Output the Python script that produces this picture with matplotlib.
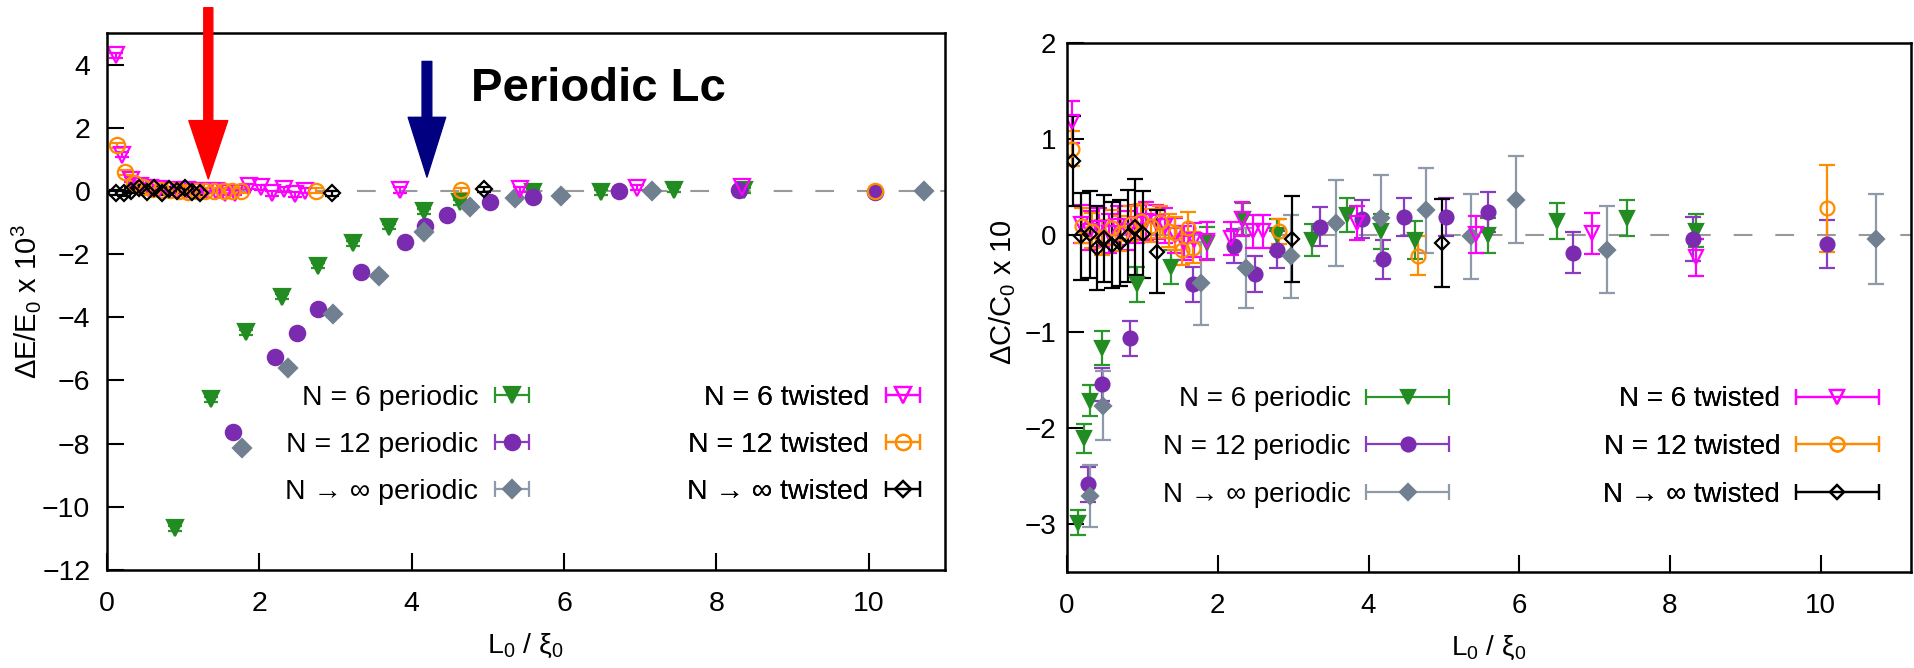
import matplotlib
matplotlib.use('Agg')
import matplotlib.pyplot as plt
from matplotlib.collections import LineCollection
from matplotlib.container import ErrorbarContainer
from matplotlib.legend_handler import HandlerErrorbar
from matplotlib.lines import Line2D

plt.rcParams['font.family'] = ['Liberation Sans', 'DejaVu Sans']
plt.rcParams['mathtext.fontset'] = 'custom'
plt.rcParams['mathtext.rm'] = 'Liberation Sans'
plt.rcParams['mathtext.it'] = 'Liberation Sans:italic'

# ---- left panel: Delta E / E0 x 10^3 ----
g_x_l = [0.89, 1.36, 1.83, 2.30, 2.77, 3.23, 3.70, 4.16, 4.63, 5.59, 6.48, 7.44, 8.36]
g_y_l = [-10.68, -6.60, -4.48, -3.35, -2.37, -1.66, -1.13, -0.65, -0.36, -0.02, -0.04, 0.04, 0.02]
p_x_l = [1.65, 2.21, 2.49, 2.77, 3.34, 3.91, 4.18, 4.46, 5.03, 5.59, 6.72, 8.30, 10.08]
p_y_l = [-7.63, -5.26, -4.49, -3.75, -2.56, -1.61, -1.10, -0.76, -0.34, -0.20, 0.01, 0.04, -0.02]
s_x_l = [1.77, 2.37, 2.97, 3.57, 4.16, 4.76, 5.36, 5.96, 7.16, 10.73]
s_y_l = [-8.14, -5.60, -3.90, -2.69, -1.31, -0.52, -0.23, -0.15, 0.01, 0.01]
m_x_l = [0.12, 0.20, 0.31, 0.43, 0.56, 0.68, 0.81, 0.93, 1.05, 1.18, 1.30, 1.43,
         1.55, 1.68, 1.86, 2.02, 2.17, 2.32, 2.47, 2.60, 3.85, 5.42, 6.96, 8.34]
m_y_l = [4.30, 1.15, 0.35, 0.15, 0.08, 0.05, 0.03, 0.02, 0.02, 0.00, 0.00, 0.00,
         -0.05, -0.05, 0.15, 0.12, -0.08, 0.05, -0.10, 0.00, 0.03, 0.05, 0.10, 0.12]
o_x_l = [0.13, 0.24, 0.36, 0.47, 0.59, 0.71, 0.83, 0.94, 1.06, 1.18, 1.29, 1.41,
         1.53, 1.64, 1.76, 2.74, 4.65, 10.08]
o_y_l = [1.44, 0.59, 0.25, 0.12, 0.06, 0.03, 0.02, 0.00, -0.02, 0.00, 0.00, 0.00,
         0.00, 0.00, 0.00, 0.00, 0.02, 0.00]
k_x_l = [0.12, 0.22, 0.32, 0.42, 0.52, 0.62, 0.72, 0.82, 0.92, 1.02, 1.12, 1.22, 2.96, 4.95]
k_y_l = [-0.05, -0.08, 0.00, 0.10, -0.02, 0.08, -0.05, 0.05, 0.00, 0.10, -0.03, -0.05, -0.08, 0.06]
err_l = 0.08

# ---- right panel: Delta C / C0 x 10 ----
g_x_r = [0.15, 0.22, 0.31, 0.46, 0.93, 1.38, 1.86, 2.33, 2.78, 3.25, 3.72, 4.17,
         4.62, 5.58, 6.50, 7.43, 8.35]
g_y_r = [-2.99, -2.11, -1.72, -1.17, -0.51, -0.33, -0.08, 0.17, 0.00, -0.05, 0.21, 0.04,
         -0.05, 0.00, 0.15, 0.18, 0.05]
g_e_r = [0.13, 0.15, 0.16, 0.18, 0.18, 0.18, 0.17, 0.17, 0.17, 0.17, 0.18, 0.18,
         0.20, 0.18, 0.19, 0.19, 0.17]
p_x_r = [0.28, 0.46, 0.84, 1.67, 2.22, 2.50, 2.78, 3.35, 3.91, 4.19, 4.47, 5.03,
         5.59, 6.71, 8.30, 10.08]
p_y_r = [-2.59, -1.55, -1.07, -0.51, -0.11, -0.40, -0.15, 0.09, 0.17, -0.25, 0.19, 0.19,
         0.24, -0.18, -0.04, -0.09]
p_e_r = [0.18, 0.17, 0.18, 0.18, 0.18, 0.19, 0.19, 0.20, 0.20, 0.20, 0.20, 0.20,
         0.21, 0.21, 0.23, 0.25]
s_x_r = [0.30, 0.48, 1.78, 2.37, 2.97, 3.57, 4.16, 4.76, 5.36, 5.96, 7.16, 10.73]
s_y_r = [-2.71, -1.77, -0.50, -0.34, -0.22, 0.13, 0.18, 0.26, -0.01, 0.37, -0.15, -0.04]
s_e_r = [0.32, 0.36, 0.43, 0.42, 0.43, 0.45, 0.45, 0.44, 0.44, 0.45, 0.45, 0.47]
m_x_r = [0.07, 0.19, 0.31, 0.43, 0.56, 0.68, 0.81, 0.93, 1.05, 1.18, 1.30, 1.43,
         1.55, 1.68, 1.86, 2.17, 2.32, 2.47, 2.60, 3.85, 5.42, 6.96, 8.34]
m_y_r = [1.18, 0.12, 0.05, 0.08, 0.02, 0.10, 0.05, 0.12, 0.15, 0.14, 0.10, 0.00,
         -0.08, -0.05, -0.06, -0.03, 0.17, 0.04, 0.04, 0.13, 0.01, 0.02, -0.23]
m_e_r = [0.22, 0.20, 0.20, 0.20, 0.20, 0.20, 0.20, 0.20, 0.20, 0.18, 0.18, 0.18,
         0.18, 0.18, 0.20, 0.17, 0.18, 0.17, 0.17, 0.18, 0.19, 0.21, 0.19]
o_x_r = [0.07, 0.20, 0.33, 0.46, 0.59, 0.72, 0.85, 0.98, 1.11, 1.23, 1.35, 1.43,
         1.53, 1.60, 1.67, 2.81, 4.66, 10.08]
o_y_r = [0.90, 0.10, 0.05, -0.02, 0.08, 0.02, 0.12, 0.15, 0.10, 0.14, 0.05, 0.02,
         -0.15, 0.08, -0.13, 0.04, -0.21, 0.28]
o_e_r = [0.18, 0.18, 0.18, 0.18, 0.18, 0.18, 0.18, 0.18, 0.17, 0.17, 0.17, 0.17,
         0.16, 0.16, 0.16, 0.13, 0.20, 0.45]
k_x_r = [0.08, 0.19, 0.30, 0.40, 0.49, 0.59, 0.70, 0.81, 0.90, 1.01, 1.19, 2.99, 4.97]
k_y_r = [0.77, -0.01, 0.01, -0.13, -0.03, -0.10, -0.08, -0.01, 0.09, 0.01, -0.17, -0.04, -0.08]
k_e_r = [0.47, 0.45, 0.45, 0.44, 0.45, 0.45, 0.45, 0.48, 0.50, 0.45, 0.43, 0.45, 0.46]

labels = ['N = 6 periodic', 'N = 12 periodic', 'N \u2192 \u221e periodic',
          'N = 6 twisted', 'N = 12 twisted', 'N \u2192 \u221e twisted']

STYLES = [
    dict(color='#228b22', ecolor='#2b962b', marker='v', mfc='#228b22'),
    dict(color='#7b2bb0', ecolor='#8a3cc0', marker='o', mfc='#7b2bb0'),
    dict(color='#708090', ecolor='#8e9aaa', marker='D', mfc='#708090'),
    dict(color='#ff00ff', ecolor='#ff00ff', marker='v', mfc='none'),
    dict(color='#ff8c00', ecolor='#ff8c00', marker='o', mfc='none'),
    dict(color='black', ecolor='black', marker='D', mfc='none'),
]
MS = [11, 11, 9, 11, 11, 8]
MS_R = [10, 10, 8, 10, 10, 7]


def plot_series(ax, x, y, err, style, ms, capsize):
    """Draws one data series with vertical error bars."""
    ax.errorbar(x, y, yerr=err, ls='none', marker=style['marker'],
                color=style['color'], mfc=style['mfc'], mec=style['color'],
                ms=ms, mew=1.6, ecolor=style['ecolor'], elinewidth=1.6,
                capsize=capsize, capthick=1.6)


def make_handle(style, ms):
    """Builds a gnuplot-like key sample: marker on a horizontal bar."""
    line = Line2D([], [], ls='none', marker=style['marker'], color=style['color'],
                  mfc=style['mfc'], mec=style['color'], ms=ms, mew=1.6)
    cap = Line2D([], [], ls='none', marker='|', color=style['ecolor'], ms=11, mew=1.6)
    bar = LineCollection([], colors=style['ecolor'], linewidths=1.6)
    return ErrorbarContainer((line, (cap, cap), (bar,)), has_xerr=True, has_yerr=False)


def add_key(ax, idx, sizes, anchor, fontsize, half, pad, spacing):
    handles = [make_handle(STYLES[i], sizes[i]) for i in idx]
    leg = ax.legend(handles, [labels[i] for i in idx], loc='upper right',
                    bbox_to_anchor=anchor, frameon=False, markerfirst=False,
                    fontsize=fontsize, borderpad=0, borderaxespad=0,
                    handlelength=2 * half, handletextpad=pad,
                    labelspacing=spacing,
                    handler_map={ErrorbarContainer: HandlerErrorbar(xerr_size=half)})
    ax.add_artist(leg)


def style_axes(ax, xlim, ylim, yticks, fs, ypad):
    ax.set_xlim(*xlim)
    ax.set_ylim(*ylim)
    ax.set_xticks([0, 2, 4, 6, 8, 10])
    ax.set_yticks(yticks)
    ax.axhline(0, color='#999999', lw=1.5, ls=(0, (9, 11)), zorder=0)
    for sp in ax.spines.values():
        sp.set_linewidth(1.8)
    ax.tick_params(direction='in', length=12, width=1.5, labelsize=fs)
    ax.tick_params(axis='x', pad=15)
    ax.tick_params(axis='y', pad=ypad)


fig = plt.figure(figsize=(19.14, 6.68), dpi=100)
ax1 = fig.add_axes([0.0559, 0.1467, 0.4378, 0.8039])
ax2 = fig.add_axes([0.5575, 0.1437, 0.4410, 0.7920])

# left panel
left = [(g_x_l, g_y_l), (p_x_l, p_y_l), (s_x_l, s_y_l),
        (m_x_l, m_y_l), (o_x_l, o_y_l), (k_x_l, k_y_l)]
for i, (x, y) in enumerate(left):
    plot_series(ax1, x, y, err_l, STYLES[i], MS[i], 5)
style_axes(ax1, (0, 11), (-12, 5), range(-12, 5, 2), 20.5, 12)
ax1.set_xlabel('L$_0$ / \u03be$_0$', fontsize=20.5, labelpad=11)
ax1.set_ylabel('\u0394E/E$_0$ x 10$^3$', fontsize=21)
ax1.yaxis.set_label_coords(-0.076, 0.5)
add_key(ax1, [0, 1, 2], MS, (0.504, 0.3445), 20.5, 0.6, 0.59, 0.73)
add_key(ax1, [3, 4, 5], MS, (0.970, 0.3445), 20.5, 0.6, 0.59, 0.73)

ax1.annotate('', xy=(1.33, 0.38), xytext=(1.33, 5.8), annotation_clip=False,
             arrowprops=dict(arrowstyle='simple,head_length=42,head_width=28,tail_width=6.5',
                             mutation_scale=1, color='#ff0000', shrinkA=0, shrinkB=0))
ax1.annotate('', xy=(4.2, 0.44), xytext=(4.2, 4.1), annotation_clip=False,
             arrowprops=dict(arrowstyle='simple,head_length=43,head_width=27,tail_width=7',
                             mutation_scale=1, color='#000080', shrinkA=0, shrinkB=0))
ax1.text(4.78, 2.86, 'Periodic Lc', fontsize=34, fontweight='bold', va='baseline')

# right panel
right = [(g_x_r, g_y_r, g_e_r), (p_x_r, p_y_r, p_e_r), (s_x_r, s_y_r, s_e_r),
         (m_x_r, m_y_r, m_e_r), (o_x_r, o_y_r, o_e_r), (k_x_r, k_y_r, k_e_r)]
for i, (x, y, e) in enumerate(right):
    plot_series(ax2, x, y, e, STYLES[i], MS_R[i], 6)
style_axes(ax2, (0, 11.2), (-3.5, 2), range(-3, 3), 20, 8)
ax2.set_xlabel('L$_0$ / \u03be$_0$', fontsize=20, labelpad=11)
ax2.set_ylabel('\u0394C/C$_0$ x 10', fontsize=21)
ax2.yaxis.set_label_coords(-0.058, 0.53)
add_key(ax2, [0, 1, 2], MS_R, (0.4527, 0.3507), 20, 1.49, 0.57, 0.775)
add_key(ax2, [3, 4, 5], MS_R, (0.9616, 0.3507), 20, 1.49, 0.57, 0.775)

fig.savefig('out.png', dpi=100, facecolor='white')
